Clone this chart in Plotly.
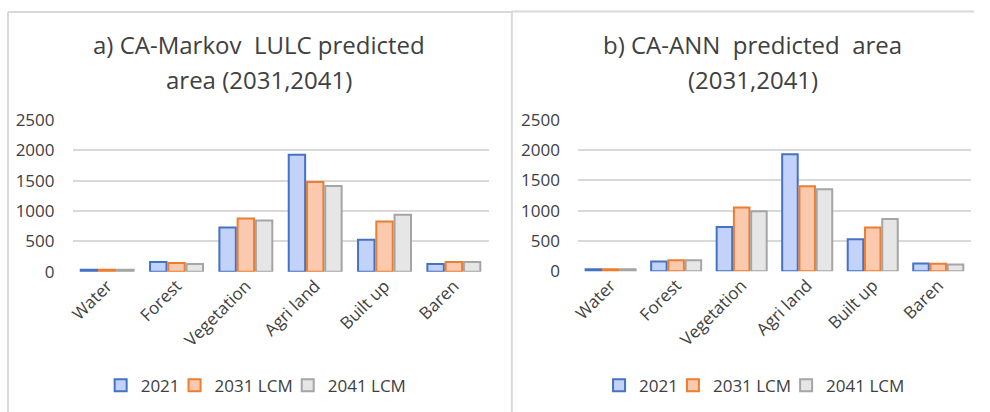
import plotly.graph_objects as go

# Land-use / land-cover classes
categories = ["Water", "Forest", "Vegetation", "Agri land", "Built up", "Baren"]
series_names = ["2021", "2031 LCM", "2041 LCM"]

# Area per class (CA-Markov model)
markov_2021 = [34, 160, 731, 1929, 528, 127]
markov_2031 = [35, 145, 876, 1480, 829, 160]
markov_2041 = [35, 128, 843, 1412, 939, 160]

# Area per class (CA-ANN model)
ann_2021 = [34, 160, 731, 1929, 528, 127]
ann_2031 = [33, 180, 1051, 1405, 721, 126]
ann_2041 = [33, 180, 992, 1355, 864, 110]

y_ticks = [0, 500, 1000, 1500, 2000, 2500]

fills = ["#c2d2f9", "#fbc9ae", "#e6e6e6"]
edges = ["#4472c4", "#ed7d31", "#a5a5a5"]

FONT = "Open Sans"
TXT = "#404040"
GRID = "#d9d9d9"

# Figure size and the page offset/scale used to place elements in page pixels
W, H = 974, 424
OFF_X = 8
SCALE_Y, OFF_Y = 0.947, 11.5


def px_x(v):
    """Page pixel column -> paper x."""
    return (v - OFF_X) / W


def px_y(v):
    """Page pixel row -> paper y."""
    return 1 - (v / SCALE_Y - OFF_Y) / H


fig = go.Figure()

panels = [
    ("x", "y", "legend", [markov_2021, markov_2031, markov_2041]),
    ("x2", "y2", "legend2", [ann_2021, ann_2031, ann_2041]),
]
for xa, ya, lg, values in panels:
    for name, vals, fc, ec in zip(series_names, values, fills, edges):
        fig.add_trace(go.Bar(
            x=categories, y=vals, name=name,
            xaxis=xa, yaxis=ya, legend=lg,
            marker=dict(color=fc, line=dict(color=ec, width=2)),
            hoverinfo="x+y+name",
        ))

axis_font = dict(family=FONT, size=17, color=TXT)

xcommon = dict(
    type="category", tickangle=-45, tickfont=axis_font,
    showgrid=False, zeroline=False, showline=False, ticks="",
    fixedrange=True,
)
ycommon = dict(
    range=[0, 2500], tickvals=y_ticks, tickfont=axis_font,
    showgrid=True, gridcolor=GRID, gridwidth=2, zeroline=False,
    showline=False, ticks="", ticklabelstandoff=17, fixedrange=True,
)

legend_common = dict(
    orientation="h", xanchor="center", yanchor="middle",
    font=dict(family=FONT, size=17, color=TXT),
    itemwidth=30, indentation=-10, bgcolor="rgba(0,0,0,0)",
)

fig.update_layout(
    width=W, height=H,
    margin=dict(l=0, r=0, t=0, b=0),
    paper_bgcolor="white", plot_bgcolor="white",
    barmode="group", bargap=0.21, bargroupgap=0.1,
    font=dict(family=FONT, color=TXT),
    xaxis=dict(domain=[px_x(74), px_x(493)], anchor="y", **xcommon),
    yaxis=dict(domain=[px_y(271), px_y(119)], anchor="x", **ycommon),
    xaxis2=dict(domain=[px_x(583), px_x(979)], anchor="y2", **xcommon),
    yaxis2=dict(domain=[px_y(270.5), px_y(118.8)], anchor="x2", **ycommon),
    legend=dict(x=px_x(264), y=px_y(385), **legend_common),
    legend2=dict(x=px_x(766), y=px_y(385), **legend_common),
)

# Panel titles
title_font = dict(family=FONT, size=24, color=TXT)
titles = [
    (262, 43, "a) CA-Markov  LULC predicted"),
    (262, 78, "area (2031,2041)"),
    (759, 43, "b) CA-ANN  predicted  area"),
    (759, 78, "(2031,2041)"),
]
for cx, cy, text in titles:
    fig.add_annotation(
        x=px_x(cx), y=px_y(cy), xref="paper", yref="paper",
        text=text, showarrow=False, font=title_font,
        xanchor="center", yanchor="middle",
    )

# Chart-area frames
frame = dict(color=GRID, width=2)
top_a, top_b = 11, 10.5
for x0, y0, x1, y1 in [
    (9, top_a, 9, 440), (9, top_a, 516, top_a),
    (516.5, top_b, 516.5, 440), (516, top_b, 990, top_b),
]:
    fig.add_shape(type="line", xref="paper", yref="paper",
                  x0=px_x(x0), y0=px_y(y0), x1=px_x(x1), y1=px_y(y1),
                  line=frame, layer="below")

fig.write_html("out.html", config={"displayModeBar": False})
